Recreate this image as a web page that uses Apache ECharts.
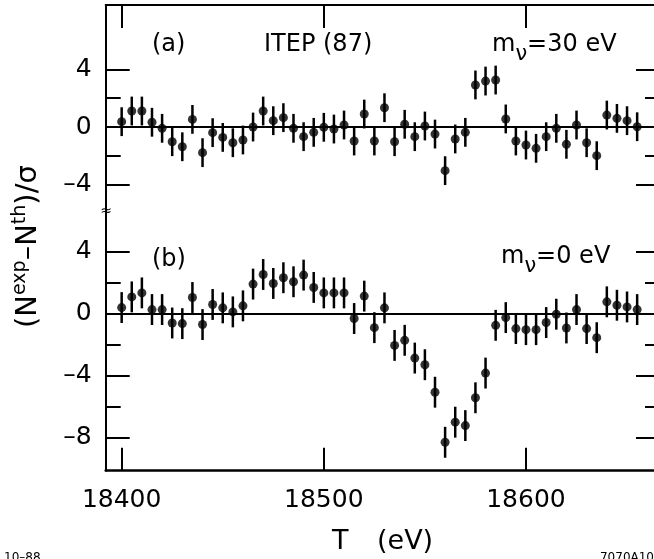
<!DOCTYPE html>
<html><head><meta charset="utf-8">
<script src="https://cdn.jsdelivr.net/npm/echarts@6/dist/echarts.min.js"></script>
<style>html,body{margin:0;padding:0;background:#fff}#c{width:654px;height:559px}</style>
</head><body><div id="c"></div>
<script>
// ---- data ----
const energyT = [18400,18405,18410,18415,18420,18425,18430,18435,18440,18445,18450,18455,18460,18465,18470,18475,18480,18485,18490,18495,18500,18505,18510,18515,18520,18525,18530,18535,18540,18545,18550,18555,18560,18565,18570,18575,18580,18585,18590,18595,18600,18605,18610,18615,18620,18625,18630,18635,18640,18645,18650,18655];
// panel (a): m_nu = 30 eV
const residualA = [0.37,1.11,1.11,0.33,-0.09,-1.02,-1.37,0.53,-1.78,-0.39,-0.72,-1.09,-0.90,0.00,1.11,0.44,0.65,-0.09,-0.67,-0.37,-0.02,-0.14,0.14,-0.97,0.90,-0.97,1.34,-1.02,0.19,-0.67,0.07,-0.49,-3.03,-0.83,-0.37,2.92,3.19,3.26,0.56,-0.97,-1.25,-1.48,-0.67,-0.09,-1.20,0.14,-1.09,-1.99,0.83,0.60,0.44,0.02];
// panel (b): m_nu = 0 eV
const residualB = [0.40,1.09,1.35,0.27,0.27,-0.60,-0.64,1.05,-0.70,0.60,0.38,0.12,0.51,1.92,2.54,1.96,2.33,2.07,2.50,1.70,1.35,1.35,1.35,-0.31,1.14,-0.90,0.38,-2.05,-1.72,-2.87,-3.30,-5.08,-8.32,-7.02,-7.24,-5.44,-3.84,-0.75,-0.25,-0.96,-1.03,-1.03,-0.57,-0.03,-0.92,0.27,-0.96,-1.55,0.77,0.55,0.44,0.27];
const sigmaUnit = 1; // residuals are in units of sigma
const xTickValues = [18400, 18500, 18600];
const yMajorA = [-4, 0, 4];
const yMinorA = [-2, 2];
const yMajorB = [-8, -4, 0, 4];
const yMinorB = [-6, -2, 2];
const xRange = [18392.1, 18666.3];
const yRangeA = [-5.83, 8.47];
const yRangeB = [-10.16, 6.65];

// ---- helpers ----
const FONT = '"DejaVu Sans", sans-serif';
const mctx = document.createElement('canvas').getContext('2d');
function tw(t, size) { mctx.font = size + 'px ' + FONT; return mctx.measureText(t).width; }
function runs(parts, x0, baseline) {
  let x = x0; const out = [];
  parts.forEach(p => {
    x += (p.pre || 0);
    out.push({type: 'text', x: x, y: baseline + (p.dy || 0) - 0.35 * p.size, silent: true,
      style: {text: p.t, fontSize: p.size, fontFamily: FONT, fill: '#000', align: 'left', verticalAlign: 'middle'}});
    x += tw(p.t, p.size);
  });
  return out;
}
const minusFmt = v => (v < 0 ? '\u2013' + Math.abs(v) : String(v));

function yAxes(gi, range, majors, minors) {
  const base = {type: 'value', gridIndex: gi, min: range[0], max: range[1], splitLine: {show: false}};
  const line = show => ({show: show, onZero: false, lineStyle: {color: '#000', width: 2}});
  return [
    Object.assign({}, base, {position: 'left', axisLine: line(true),
      axisTick: {show: true, inside: true, length: 24, customValues: majors, lineStyle: {color: '#000', width: 2}},
      axisLabel: {show: true, customValues: majors, formatter: minusFmt, margin: 14, fontSize: 25, fontFamily: FONT, color: '#000'}}),
    Object.assign({}, base, {position: 'left', axisLine: line(false),
      axisTick: {show: true, inside: true, length: 15, customValues: minors, lineStyle: {color: '#000', width: 2}},
      axisLabel: {show: false}}),
    Object.assign({}, base, {position: 'right', axisLine: line(true),
      axisTick: {show: true, inside: true, length: 24, customValues: majors, lineStyle: {color: '#000', width: 2}},
      axisLabel: {show: false}}),
    Object.assign({}, base, {position: 'right', axisLine: line(false),
      axisTick: {show: true, inside: true, length: 15, customValues: minors, lineStyle: {color: '#000', width: 2}},
      axisLabel: {show: false}})
  ];
}

function errorBars(xi, yi, values) {
  return {
    type: 'custom', xAxisIndex: xi, yAxisIndex: yi, silent: true, z: 3,
    data: energyT.map((t, i) => [t, values[i] - sigmaUnit, values[i] + sigmaUnit]),
    encode: {x: 0, y: [1, 2]},
    renderItem(params, api) {
      const lo = api.coord([api.value(0), api.value(1)]);
      const hi = api.coord([api.value(0), api.value(2)]);
      return {type: 'line', shape: {x1: lo[0], y1: lo[1], x2: hi[0], y2: hi[1]}, style: {stroke: '#000', lineWidth: 2.5}};
    }
  };
}
function points(xi, yi, values) {
  return {
    type: 'scatter', xAxisIndex: xi, yAxisIndex: yi, z: 4, silent: true,
    symbol: 'circle', symbolSize: 9, itemStyle: {color: '#000'},
    data: energyT.map((t, i) => [t, values[i]]),
    markLine: {silent: true, symbol: ['none', 'none'], label: {show: false}, animation: false,
      lineStyle: {color: '#000', width: 2, type: 'solid'}, data: [{yAxis: 0}]}
  };
}

const gLeft = 105.7, gWidth = 660 - 105.7;
const chart = echarts.init(document.getElementById('c'), null, {renderer: 'canvas'});

const graphics = [];
// y-axis title (rotated)
graphics.push({type: 'group', x: 38.5, y: 328, rotation: Math.PI / 2, silent: true,
  children: runs([
    {t: '(', size: 29}, {t: 'N', size: 29}, {t: 'exp', size: 19, dy: -12},
    {t: '\u2013', size: 29}, {t: 'N', size: 29}, {t: 'th', size: 19, dy: -12},
    {t: ')', size: 29}, {t: '/', size: 29}, {t: '\u03C3', size: 29}
  ], 0, 0)});
// panel labels
graphics.push(...runs([{t: '(a)', size: 24}], 152, 53));
graphics.push(...runs([{t: 'ITEP (87)', size: 24}], 264, 53));
graphics.push(...runs([{t: 'm', size: 24}, {t: '\u03BD', size: 21, dy: 9}, {t: '=30 eV', size: 24}], 492, 53));
graphics.push(...runs([{t: '(b)', size: 24}], 152, 268));
graphics.push(...runs([{t: 'm', size: 24}, {t: '\u03BD', size: 21, dy: 9}, {t: '=0 eV', size: 24}], 501, 265));
// x-axis title
graphics.push(...runs([{t: 'T', size: 27}], 332, 551));
graphics.push(...runs([{t: '(eV)', size: 27}], 377, 551));
// axis break mark
graphics.push({type: 'text', x: 106, y: 211, silent: true,
  style: {text: '\u2248', fontSize: 14, fontFamily: FONT, fill: '#000', align: 'center', verticalAlign: 'middle'}});
// tiny figure codes (cropped at bottom)
graphics.push({type: 'text', x: 4, y: 552, silent: true,
  style: {text: '10\u201388', fontSize: 12, fontFamily: FONT, fill: '#000', align: 'left', verticalAlign: 'top'}});
graphics.push({type: 'text', x: 654, y: 552, silent: true,
  style: {text: '7070A10', fontSize: 12, fontFamily: FONT, fill: '#000', align: 'right', verticalAlign: 'top'}});

chart.setOption({
  animation: false,
  backgroundColor: '#fff',
  grid: [
    {left: gLeft, width: gWidth, top: 5, height: 206, outerBoundsMode: 'none', containLabel: false},
    {left: gLeft, width: gWidth, top: 211, height: 470.7 - 211, outerBoundsMode: 'none', containLabel: false}
  ],
  xAxis: [
    {type: 'value', gridIndex: 0, position: 'top', min: xRange[0], max: xRange[1], splitLine: {show: false},
      axisLine: {show: true, onZero: false, lineStyle: {color: '#000', width: 2}},
      axisTick: {show: true, inside: true, length: 23, customValues: xTickValues, lineStyle: {color: '#000', width: 2}},
      axisLabel: {show: false}},
    {type: 'value', gridIndex: 1, position: 'bottom', min: xRange[0], max: xRange[1], splitLine: {show: false},
      axisLine: {show: true, onZero: false, lineStyle: {color: '#000', width: 2.5}},
      axisTick: {show: true, inside: true, length: 23, customValues: xTickValues, lineStyle: {color: '#000', width: 2}},
      axisLabel: {show: true, customValues: xTickValues, formatter: v => String(v), margin: 17, fontSize: 25, fontFamily: FONT, color: '#000'}}
  ],
  yAxis: [].concat(yAxes(0, yRangeA, yMajorA, yMinorA), yAxes(1, yRangeB, yMajorB, yMinorB)),
  series: [
    errorBars(0, 0, residualA), points(0, 0, residualA),
    errorBars(1, 4, residualB), points(1, 4, residualB)
  ],
  graphic: graphics
});
</script></body></html>
